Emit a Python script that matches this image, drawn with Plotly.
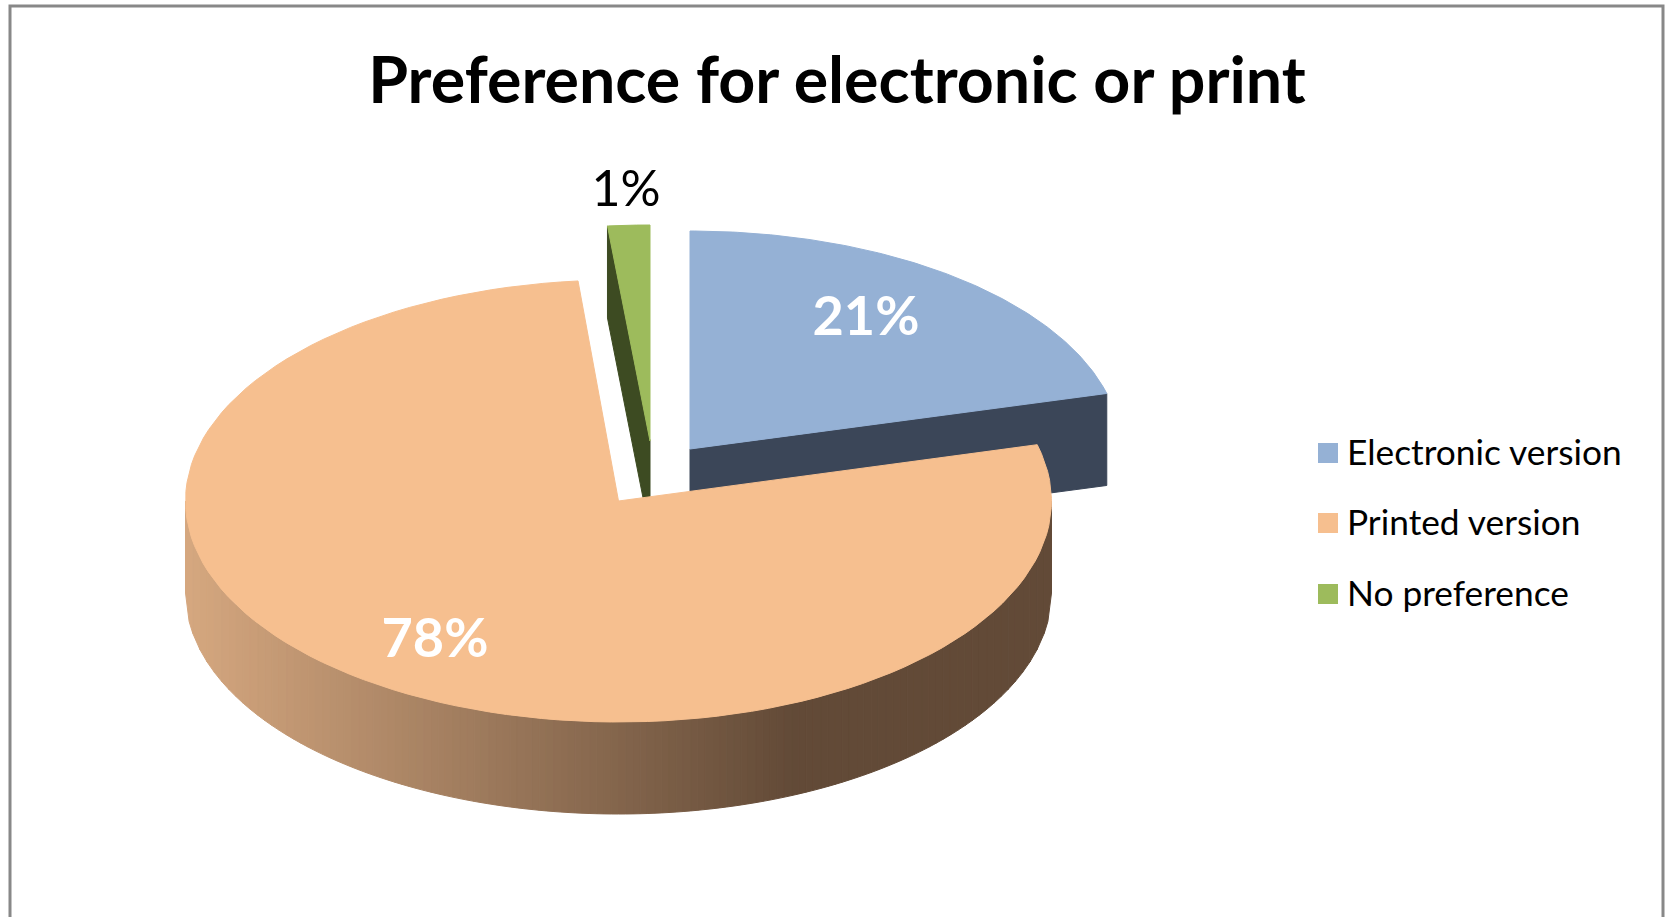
import numpy as np
import plotly.graph_objects as go

# --- data ---
categories = ["Electronic version", "Printed version", "No preference"]
values = [20.9, 77.61, 1.49]
slice_colors = ["#95B1D5", "#F6BF8F", "#9DBB5C"]
side_colors = ["#3B4658", "#644A36", "#3D4B22"]
title_text = "Preference for electronic or print"

# --- layout constants (page pixels) ---
W, H = 1669, 917
RX = [431, 433, 455]
RY = [218, 221, 216]
DEPTH = 92
APEX = [(690, 449), (618.5, 501), (650, 441)]
LABEL_POS = [(866, 321), (435, 643), (626, 193)]
LABEL_COLOR = ["white", "white", "black"]
LABEL_WEIGHT = [700, 700, 400]
LABEL_SIZE = [54, 54, 50]
LEGEND_X = 1328
LEGEND_TEXT_X = 1347
LEGEND_Y = [453, 523, 594]
LEGEND_TEXT_Y = [456, 526, 597]
FONT = "Lato"


def pt(i, deg, apex=None):
    r = np.radians(deg)
    a = apex or APEX[i]
    return a[0] + RX[i] * np.sin(r), a[1] - RY[i] * np.cos(r)


fracs = np.array(values) / sum(values) * 360
starts = np.concatenate([[0], np.cumsum(fracs)[:-1]])
ends = starts + fracs

fig = go.Figure()


def poly(xs, ys, color):
    fig.add_trace(go.Scatter(x=xs, y=ys, mode="lines", fill="toself", fillcolor=color,
                             line=dict(color=color, width=1), hoverinfo="skip", showlegend=False))


def wedge(i):
    th = np.linspace(starts[i], ends[i], 120)
    x, y = pt(i, th)
    return [APEX[i][0], *x, APEX[i][0]], [APEX[i][1], *y, APEX[i][1]]


def cut_face(i, deg):
    ex, ey = pt(i, deg)
    ax, ay = APEX[i]
    return [ax, ex, ex, ax, ax], [ay, ey, ey + DEPTH, ay + DEPTH, ay]


# green slice (back) : side face, then top
poly(*cut_face(2, starts[2]), side_colors[2])
poly(*wedge(2), slice_colors[2])
# blue slice: side face, top
poly(*cut_face(0, ends[0]), side_colors[0])
poly(*wedge(0), slice_colors[0])

# orange slice: outer wall gradient, then top
c0 = np.array([214, 168, 128])
c1 = np.array([98, 74, 55])
grad_end_x = 798
cx, cy = APEX[1]
edges = np.linspace(cx - RX[1], cx + RX[1], 121)
for x0, x1 in zip(edges[:-1], edges[1:]):
    xs = np.linspace(x0, x1, 3)
    t = np.clip((xs - cx) / RX[1], -1, 1)
    top = cy + RY[1] * np.sqrt(1 - t ** 2)
    k = min(max(((x0 + x1) / 2 - edges[0]) / (grad_end_x - edges[0]), 0), 1)
    col = c0 + (c1 - c0) * k
    color = "rgb(%d,%d,%d)" % tuple(col)
    poly([*xs, *xs[::-1], xs[0]], [*top, *(top[::-1] + DEPTH), top[0]], color)
poly(*wedge(1), slice_colors[1])

# percentage labels, from the values
for i, v in enumerate(values):
    fig.add_trace(go.Scatter(x=[LABEL_POS[i][0]], y=[LABEL_POS[i][1]], mode="text",
                             text=["%d%%" % round(v)], textposition="middle center",
                             textfont=dict(family=FONT, size=LABEL_SIZE[i], color=LABEL_COLOR[i],
                                           weight=LABEL_WEIGHT[i]),
                             hoverinfo="skip", showlegend=False))

# legend keys and texts
fig.add_trace(go.Scatter(x=[LEGEND_X] * 3, y=LEGEND_Y, mode="markers",
                         marker=dict(symbol="square", size=20, color=slice_colors),
                         hoverinfo="skip", showlegend=False))
fig.add_trace(go.Scatter(x=[LEGEND_TEXT_X] * 3, y=LEGEND_TEXT_Y, mode="text",
                         text=categories, textposition="middle right",
                         textfont=dict(family=FONT, size=35.3, color="black"),
                         hoverinfo="skip", showlegend=False))

fig.update_layout(
    width=W, height=H, margin=dict(l=0, r=0, t=0, b=0),
    paper_bgcolor="white", plot_bgcolor="white", showlegend=False,
    xaxis=dict(range=[0, W], visible=False, fixedrange=True),
    yaxis=dict(range=[H, 0], visible=False, fixedrange=True),
    title=dict(text="<b>%s</b>" % title_text, x=837 / W, xanchor="center", y=1 - 80 / H, yanchor="middle",
               font=dict(family=FONT, size=64.5, color="black")),
    shapes=[dict(type="path", path="M 10 930 L 10 6 L 1663 6 L 1663 930", xref="x", yref="y",
                 line=dict(color="#888888", width=3), layer="above")],
)
fig.write_html("out.html", config={"displayModeBar": False},
               post_script="document.body.style.margin='0';document.documentElement.style.overflow='hidden';")
